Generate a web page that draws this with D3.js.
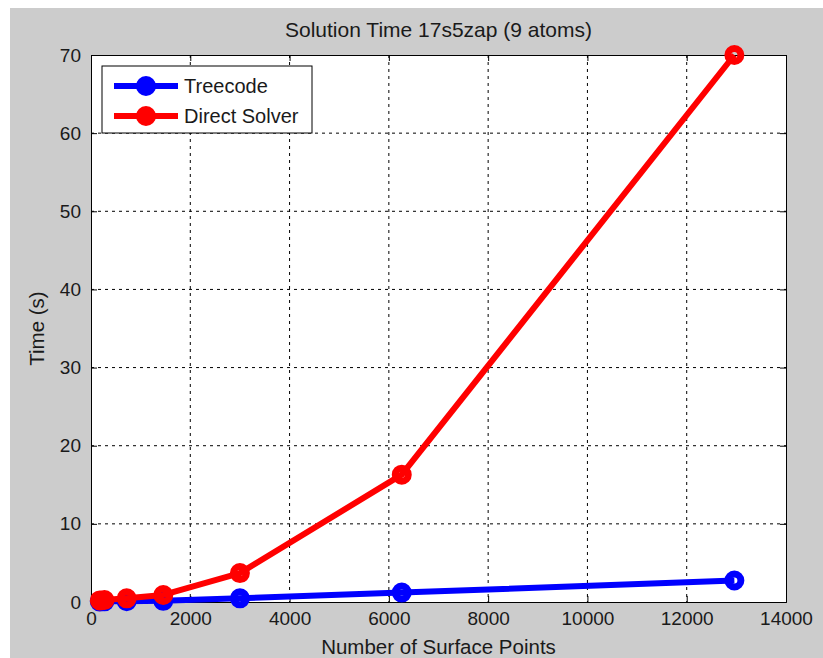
<!DOCTYPE html>
<html><head><meta charset="utf-8">
<script src="https://cdn.jsdelivr.net/npm/d3@7"></script>
<style>
html,body{margin:0;padding:0;background:#fff;}
svg{display:block;}
text{font-family:"Liberation Sans",Arial,sans-serif;fill:#1a1a1a;}
</style></head><body>
<svg id="c" width="823" height="658"></svg>
<script>
const points = [177, 271, 719, 1456, 3000, 6260, 12960];
const treecode = [0.05, 0.08, 0.1, 0.15, 0.47, 1.2, 2.75];
const direct = [0.2, 0.25, 0.47, 0.9, 3.7, 16.3, 70];
const xTicks = [0, 2000, 4000, 6000, 8000, 10000, 12000, 14000];
const yTicks = [0, 10, 20, 30, 40, 50, 60, 70];
const seriesNames = ["Treecode", "Direct Solver"];
const seriesColors = ["#0000ff", "#ff0000"];

const svg = d3.select("#c");
svg.append("rect").attr("x",10).attr("y",8).attr("width",813).attr("height",650).attr("fill","#cccccc");

const L=91, R=786, T=55, B=602;
const x = d3.scaleLinear().domain([0,14000]).range([L,R]);
const y = d3.scaleLinear().domain([0,70]).range([B,T]);

svg.append("rect").attr("x",L).attr("y",T).attr("width",R-L).attr("height",B-T).attr("fill","#fff");

// grid
const g = svg.append("g");
xTicks.slice(1,-1).forEach(t=>{
  g.append("line").attr("x1",x(t)).attr("x2",x(t)).attr("y1",T).attr("y2",B)
   .attr("stroke","#000").attr("stroke-width",1).attr("stroke-dasharray","3,4");
});
yTicks.slice(1,-1).forEach(t=>{
  g.append("line").attr("x1",L).attr("x2",R).attr("y1",y(t)).attr("y2",y(t))
   .attr("stroke","#000").attr("stroke-width",1).attr("stroke-dasharray","3,4");
});

// axes
const xa = svg.append("g").attr("transform",`translate(0,${B})`)
  .call(d3.axisBottom(x).tickValues(xTicks).tickSize(-6).tickPadding(10).tickFormat(d3.format("d")));
const xt = svg.append("g").attr("transform",`translate(0,${T})`)
  .call(d3.axisTop(x).tickValues(xTicks).tickSize(-6).tickFormat(""));
const ya = svg.append("g").attr("transform",`translate(${L},0)`)
  .call(d3.axisLeft(y).tickValues(yTicks).tickSize(-6).tickPadding(10).tickFormat(d3.format("d")));
const yr = svg.append("g").attr("transform",`translate(${R},0)`)
  .call(d3.axisRight(y).tickValues(yTicks).tickSize(-6).tickFormat(""));
[xa,xt,ya,yr].forEach(a=>{
  a.selectAll(".domain").attr("stroke","#000");
  a.selectAll(".tick line").attr("stroke","#000");
  a.selectAll("text").attr("font-size",19).attr("fill","#1a1a1a")
   .attr("font-family","'Liberation Sans',Arial,sans-serif");
});

// lines
const line = d3.line().x((d,i)=>x(points[i])).y(d=>y(d));
[treecode, direct].forEach((s,k)=>{
  svg.append("path").datum(s).attr("d",line).attr("fill","none")
    .attr("stroke",seriesColors[k]).attr("stroke-width",6).attr("stroke-linejoin","round");
  svg.selectAll(null).data(s).enter().append("circle")
    .attr("cx",(d,i)=>x(points[i])).attr("cy",d=>y(d)).attr("r",6.5)
    .attr("fill","none").attr("stroke",seriesColors[k]).attr("stroke-width",7);
});

// title and labels
svg.append("text").attr("x",(L+R)/2).attr("y",37).attr("text-anchor","middle")
  .attr("font-size",21).text("Solution Time 17s5zap (9 atoms)");
svg.append("text").attr("x",(L+R)/2).attr("y",654).attr("text-anchor","middle")
  .attr("font-size",20.5).text("Number of Surface Points");
svg.append("text").attr("transform",`translate(44,${(T+B)/2}) rotate(-90)`).attr("text-anchor","middle")
  .attr("font-size",20.5).text("Time (s)");

// legend
const lg = svg.append("g");
lg.append("rect").attr("x",102).attr("y",66).attr("width",210).attr("height",67)
  .attr("fill","#fff").attr("stroke","#000").attr("stroke-width",1);
seriesNames.forEach((n,k)=>{
  const yy = 86 + k*30;
  lg.append("line").attr("x1",114).attr("x2",178).attr("y1",yy).attr("y2",yy)
    .attr("stroke",seriesColors[k]).attr("stroke-width",6);
  lg.append("circle").attr("cx",146).attr("cy",yy).attr("r",6.5).attr("fill","none")
    .attr("stroke",seriesColors[k]).attr("stroke-width",7);
  lg.append("text").attr("x",184).attr("y",yy+7).attr("font-size",20).text(n);
});
</script>
</body></html>
